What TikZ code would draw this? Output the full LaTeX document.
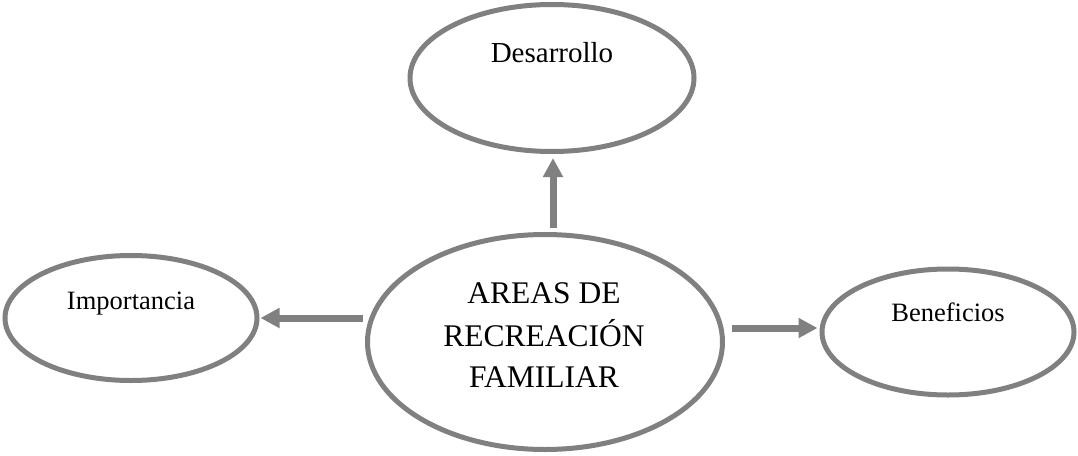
\documentclass[tikz,border=0pt]{standalone}
\usepackage{fontspec}
\setmainfont{Liberation Serif}
\usetikzlibrary{shapes.geometric,arrows.meta}
\definecolor{linegray}{HTML}{808080}
\tikzset{
  oval/.style={ellipse, draw=linegray, line width=5pt, fill=white, inner sep=0pt},
  arr/.style={draw=linegray, line width=7pt, -{Triangle[width=19pt,length=19pt]}},
  lbl/.style={anchor=base, inner sep=0pt, text=black}
}
\begin{document}
\begin{tikzpicture}[x=1pt,y=-1pt]
\useasboundingbox (0,0) rectangle (1078,455);
% ellipses
\node[oval, minimum width=284pt, minimum height=147pt] (d) at (552,78) {};
\node[oval, minimum width=355pt, minimum height=215pt] (c) at (545,342) {};
\node[oval, minimum width=252pt, minimum height=125pt] (i) at (131,318) {};
\node[oval, minimum width=252pt, minimum height=126pt] (b) at (948,332) {};
% labels
\node[lbl, font=\fontsize{29}{34}\selectfont] (td) at (552,62) {Desarrollo};
\node[lbl, font=\fontsize{26.5}{32}\selectfont] (ti) at (131,309) {Importancia};
\node[lbl, font=\fontsize{26.5}{32}\selectfont] (tb) at (948,321) {Beneficios};
\node[lbl, font=\fontsize{31.5}{38}\selectfont] (t1) at (544,303) {AREAS DE};
\node[lbl, font=\fontsize{31.5}{38}\selectfont] (t2) at (544,346) {RECREACIÓN};
\node[lbl, font=\fontsize{31.5}{38}\selectfont] (t3) at (544,387) {FAMILIAR};
% arrows
\draw[arr] ([xshift=8pt,yshift=4pt]c.north) -- ([xshift=1pt,yshift=-4pt]d.south);
\draw[arr] ([xshift=-2pt]c.west |- i.east) -- ([xshift=1pt]i.east);
\draw[arr] ([xshift=7pt,yshift=4pt]c.east |- b.west) -- ([xshift=-2pt,yshift=4pt]b.west);
\end{tikzpicture}
\end{document}
